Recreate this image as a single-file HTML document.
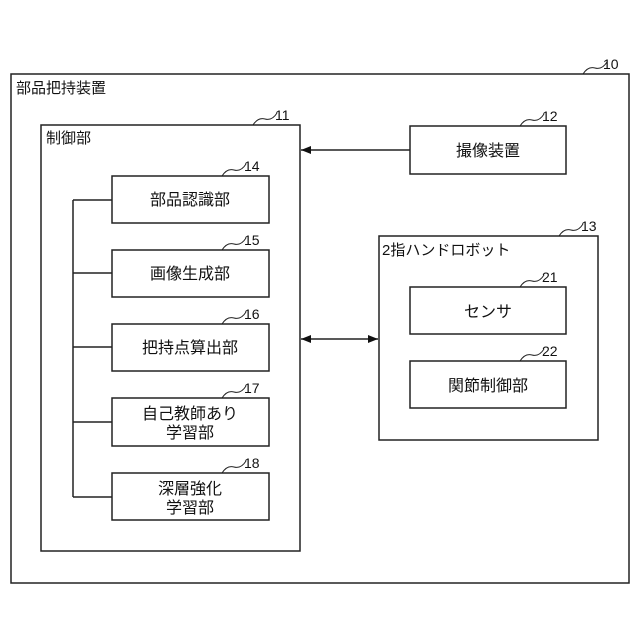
<!DOCTYPE html>
<html><head><meta charset="utf-8"><style>
html,body{margin:0;padding:0;background:#fff;}
svg{display:block;}
text{font-family:"Liberation Sans","Noto Sans CJK JP",sans-serif;fill:#111;}
</style></head><body>
<svg width="640" height="640" viewBox="0 0 640 640" xmlns="http://www.w3.org/2000/svg">
<defs>
<marker id="ah" markerWidth="10" markerHeight="8" refX="10" refY="4" orient="auto" markerUnits="userSpaceOnUse">
<path d="M0,0 L10,4 L0,8 z" fill="#111"/></marker>
<marker id="as" markerWidth="10" markerHeight="8" refX="0" refY="4" orient="auto" markerUnits="userSpaceOnUse">
<path d="M10,0 L0,4 L10,8 z" fill="#111"/></marker>
</defs>
<g fill="none" stroke="#222" stroke-width="1.5">
<rect x="11" y="74" width="618" height="509"/>
<rect x="41" y="125" width="259" height="426"/>
<rect x="112" y="176" width="157" height="47"/>
<rect x="112" y="250" width="157" height="47"/>
<rect x="112" y="324" width="157" height="47"/>
<rect x="112" y="398" width="157" height="48"/>
<rect x="112" y="473" width="157" height="47"/>
<rect x="410" y="126" width="156" height="48"/>
<rect x="379" y="236" width="219" height="204"/>
<rect x="410" y="287" width="156" height="47"/>
<rect x="410" y="361" width="156" height="47"/>
<path d="M73,200 V497 M73,200 H112 M73,273 H112 M73,347 H112 M73,422 H112 M73,497 H112"/>
<line x1="410" y1="150" x2="301" y2="150" marker-end="url(#ah)"/>
<line x1="301" y1="339" x2="378" y2="339" marker-start="url(#as)" marker-end="url(#ah)"/>
<g stroke-width="1">
<path d="M583,74 q5,-8 12,-6 t12,-6"/>
<path d="M253,125 q5,-8 12,-6 t12,-6"/>
<path d="M520,126 q5,-8 12,-6 t12,-6"/>
<path d="M559,236 q5,-8 12,-6 t12,-6"/>
<path d="M222,176 q5,-8 12,-6 t12,-6"/>
<path d="M222,250 q5,-8 12,-6 t12,-6"/>
<path d="M222,324 q5,-8 12,-6 t12,-6"/>
<path d="M222,398 q5,-8 12,-6 t12,-6"/>
<path d="M222,473 q5,-8 12,-6 t12,-6"/>
<path d="M520,287 q5,-8 12,-6 t12,-6"/>
<path d="M520,361 q5,-8 12,-6 t12,-6"/>
</g>
</g>
<g font-size="14">
<text x="603" y="69">10</text>
<text x="275" y="120">11</text>
<text x="542" y="121">12</text>
<text x="581" y="231">13</text>
<text x="244" y="171">14</text>
<text x="244" y="245">15</text>
<text x="244" y="319">16</text>
<text x="244" y="393">17</text>
<text x="244" y="468">18</text>
<text x="542" y="282">21</text>
<text x="542" y="356">22</text>
</g>
<g font-size="15">
<text x="16" y="93">部品把持装置</text>
<text x="46" y="143">制御部</text>
<text x="382" y="255">2指ハンドロボット</text>
</g>
<g font-size="16" text-anchor="middle">
<text x="190" y="205">部品認識部</text>
<text x="190" y="279">画像生成部</text>
<text x="190" y="353">把持点算出部</text>
<text x="190" y="419">自己教師あり</text>
<text x="190" y="438">学習部</text>
<text x="190" y="494">深層強化</text>
<text x="190" y="513">学習部</text>
<text x="488" y="156">撮像装置</text>
<text x="488" y="317">センサ</text>
<text x="488" y="391">関節制御部</text>
</g>
</svg>
</body></html>
